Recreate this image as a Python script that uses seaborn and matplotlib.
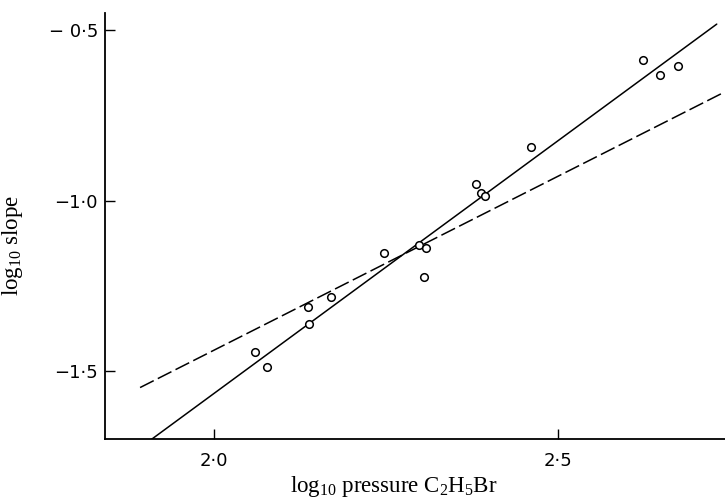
import numpy as np
import pandas as pd
import matplotlib
matplotlib.use("Agg")
import matplotlib.pyplot as plt
import seaborn as sns

# measured points (log10 pressure, log10 slope)
log_p = [2.060, 2.078, 2.137, 2.138, 2.171, 2.248, 2.299, 2.309, 2.305,
         2.381, 2.389, 2.394, 2.461, 2.624, 2.648, 2.675]
log_slope = [-1.444, -1.489, -1.313, -1.362, -1.282, -1.155, -1.130, -1.140,
             -1.225, -0.950, -0.977, -0.987, -0.844, -0.587, -0.631, -0.606]

# fitted straight lines: slope, intercept, x range
solid_fit = (1.482, -4.530, 1.905, 2.731)
dashed_fit = (1.020, -3.479, 1.893, 2.742)

xticks = [2.0, 2.5]
xtick_labels = ["2·0", "2·5"]
yticks = [-0.5, -1.0, -1.5]
ytick_labels = ["− 0·5", "−1·0", "−1·5"]

sns.set_style("ticks")
plt.rcParams["font.family"] = ["DejaVu Sans"]
plt.rcParams["mathtext.fontset"] = "custom"
plt.rcParams["mathtext.rm"] = "Liberation Serif"
plt.rcParams["mathtext.it"] = "Liberation Serif:italic"

fig = plt.figure(figsize=(7.25, 4.99), dpi=100)
ax = fig.add_axes([0.1448, 0.1202, 0.8552, 0.8538])


def fit_frame(fit):
    m, b, x0, x1 = fit
    xs = np.array([x0, x1])
    return pd.DataFrame({"x": xs, "y": m * xs + b})


sns.lineplot(data=fit_frame(solid_fit), x="x", y="y", ax=ax, color="black", lw=1.1)
sns.lineplot(data=fit_frame(dashed_fit), x="x", y="y", ax=ax, color="black", lw=1.1,
             dashes=False, linestyle=(0, (10, 3)))

pts = pd.DataFrame({"p": log_p, "s": log_slope})
sns.scatterplot(data=pts, x="p", y="s", ax=ax, marker="o", s=30,
                facecolor="white", edgecolor="black", linewidth=1.1, zorder=3)

ax.set_xlim(1.842, 2.743)
ax.set_ylim(-1.699, -0.45)
sns.despine(ax=ax)
for sp in ("left", "bottom"):
    ax.spines[sp].set_linewidth(1.3)
    ax.spines[sp].set_color("black")

ax.set_xticks(xticks, xtick_labels)
ax.set_yticks(yticks, ytick_labels)
ax.tick_params(axis="both", direction="in", length=7, width=1, colors="black",
               labelsize=13)
ax.tick_params(axis="x", pad=9)
ax.tick_params(axis="y", pad=5)

ax.set_xlabel("log$_{10}$ pressure C$_2$H$_5$Br", fontfamily="Liberation Serif",
              fontsize=16.5, color="black")
ax.xaxis.set_label_coords(0.465, -0.083)
ax.set_ylabel("log$_{10}$ slope", fontfamily="Liberation Serif", fontsize=16.5,
              color="black")
ax.yaxis.set_label_coords(-0.129, 0.455)

fig.savefig("out.png", dpi=100)
